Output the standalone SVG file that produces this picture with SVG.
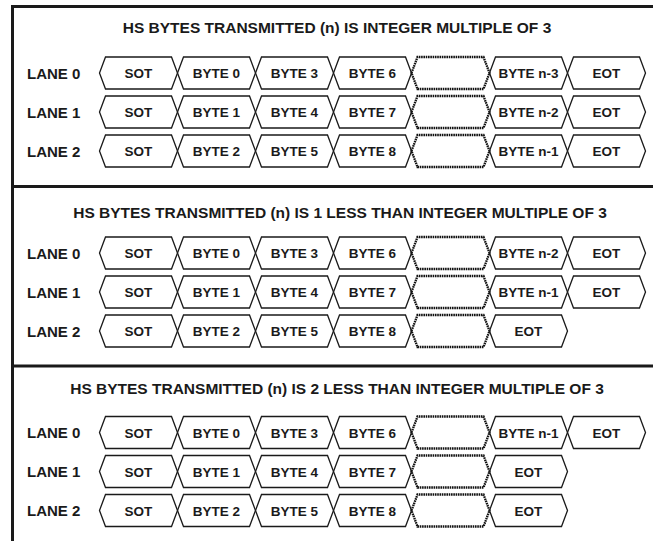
<svg xmlns="http://www.w3.org/2000/svg" xmlns:xlink="http://www.w3.org/1999/xlink" width="653" height="541" viewBox="0 0 653 541">
<style>
.hex{fill:none;stroke:#1a1a1a;stroke-width:1.3;stroke-linejoin:miter}
.dot{fill:none;stroke:#111;stroke-width:2.3;stroke-dasharray:1.6 0.7}
.frame{fill:none;stroke:#1a1a1a;stroke-width:3}
text{font-family:"Liberation Sans",Arial,Helvetica,sans-serif;font-weight:bold;fill:#1a1a1a}
.t{font-size:13.5px;text-anchor:middle}
.lane{font-size:15px}
.title{font-size:15.5px;text-anchor:middle}
</style>
<defs>
<polygon id="hx" class="hex" points="0,0 6,-16 72,-16 78,0 72,16 6,16"/>
<polygon id="hd" class="dot" points="0,0 6,-16 72,-16 78,0 72,16 6,16"/>
</defs>
<rect width="653" height="541" fill="#fff"/>
<g id="frame">
<line class="frame" x1="11" y1="6.5" x2="653" y2="6.5"/>
<line class="frame" x1="12.5" y1="5" x2="12.5" y2="541"/>
<line class="frame" x1="11" y1="186.5" x2="653" y2="186.5"/>
<line class="frame" x1="11" y1="366" x2="653" y2="366"/>
</g>
<g id="connectors"/>

<!-- Section 1 -->
<g id="sec1">
<text id="title1" class="title" x="337" y="32.5">HS BYTES TRANSMITTED (n) IS INTEGER MULTIPLE OF 3</text>
<g id="s1-lane0">
<text class="lane" x="27" y="78.5">LANE 0</text>
<g id="s1l0-sot"><use xlink:href="#hx" x="99.5" y="73"/><text class="t" x="138.5" y="78">SOT</text></g>
<g id="s1l0-b0"><use xlink:href="#hx" x="177.5" y="73"/><text class="t" x="216.5" y="78">BYTE 0</text></g>
<g id="s1l0-b3"><use xlink:href="#hx" x="255.5" y="73"/><text class="t" x="294.5" y="78">BYTE 3</text></g>
<g id="s1l0-b6"><use xlink:href="#hx" x="333.5" y="73"/><text class="t" x="372.5" y="78">BYTE 6</text></g>
<g id="s1l0-gap"><use xlink:href="#hd" x="411.5" y="73"/></g>
<g id="s1l0-bn"><use xlink:href="#hx" x="489.5" y="73"/><text class="t" x="528.5" y="78">BYTE n-3</text></g>
<g id="s1l0-eot"><use xlink:href="#hx" x="567.5" y="73"/><text class="t" x="606.5" y="78">EOT</text></g>
</g>
<g id="s1-lane1">
<text class="lane" x="27" y="117.5">LANE 1</text>
<g id="s1l1-sot"><use xlink:href="#hx" x="99.5" y="112"/><text class="t" x="138.5" y="117">SOT</text></g>
<g id="s1l1-b1"><use xlink:href="#hx" x="177.5" y="112"/><text class="t" x="216.5" y="117">BYTE 1</text></g>
<g id="s1l1-b4"><use xlink:href="#hx" x="255.5" y="112"/><text class="t" x="294.5" y="117">BYTE 4</text></g>
<g id="s1l1-b7"><use xlink:href="#hx" x="333.5" y="112"/><text class="t" x="372.5" y="117">BYTE 7</text></g>
<g id="s1l1-gap"><use xlink:href="#hd" x="411.5" y="112"/></g>
<g id="s1l1-bn"><use xlink:href="#hx" x="489.5" y="112"/><text class="t" x="528.5" y="117">BYTE n-2</text></g>
<g id="s1l1-eot"><use xlink:href="#hx" x="567.5" y="112"/><text class="t" x="606.5" y="117">EOT</text></g>
</g>
<g id="s1-lane2">
<text class="lane" x="27" y="156.5">LANE 2</text>
<g id="s1l2-sot"><use xlink:href="#hx" x="99.5" y="151"/><text class="t" x="138.5" y="156">SOT</text></g>
<g id="s1l2-b2"><use xlink:href="#hx" x="177.5" y="151"/><text class="t" x="216.5" y="156">BYTE 2</text></g>
<g id="s1l2-b5"><use xlink:href="#hx" x="255.5" y="151"/><text class="t" x="294.5" y="156">BYTE 5</text></g>
<g id="s1l2-b8"><use xlink:href="#hx" x="333.5" y="151"/><text class="t" x="372.5" y="156">BYTE 8</text></g>
<g id="s1l2-gap"><use xlink:href="#hd" x="411.5" y="151"/></g>
<g id="s1l2-bn"><use xlink:href="#hx" x="489.5" y="151"/><text class="t" x="528.5" y="156">BYTE n-1</text></g>
<g id="s1l2-eot"><use xlink:href="#hx" x="567.5" y="151"/><text class="t" x="606.5" y="156">EOT</text></g>
</g>
</g>

<!-- Section 2 -->
<g id="sec2">
<text id="title2" class="title" x="340" y="218">HS BYTES TRANSMITTED (n) IS 1 LESS THAN INTEGER MULTIPLE OF 3</text>
<g id="s2-lane0">
<text class="lane" x="27" y="258.5">LANE 0</text>
<g id="s2l0-sot"><use xlink:href="#hx" x="99.5" y="253"/><text class="t" x="138.5" y="258">SOT</text></g>
<g id="s2l0-b0"><use xlink:href="#hx" x="177.5" y="253"/><text class="t" x="216.5" y="258">BYTE 0</text></g>
<g id="s2l0-b3"><use xlink:href="#hx" x="255.5" y="253"/><text class="t" x="294.5" y="258">BYTE 3</text></g>
<g id="s2l0-b6"><use xlink:href="#hx" x="333.5" y="253"/><text class="t" x="372.5" y="258">BYTE 6</text></g>
<g id="s2l0-gap"><use xlink:href="#hd" x="411.5" y="253"/></g>
<g id="s2l0-bn"><use xlink:href="#hx" x="489.5" y="253"/><text class="t" x="528.5" y="258">BYTE n-2</text></g>
<g id="s2l0-eot"><use xlink:href="#hx" x="567.5" y="253"/><text class="t" x="606.5" y="258">EOT</text></g>
</g>
<g id="s2-lane1">
<text class="lane" x="27" y="297.5">LANE 1</text>
<g id="s2l1-sot"><use xlink:href="#hx" x="99.5" y="292"/><text class="t" x="138.5" y="297">SOT</text></g>
<g id="s2l1-b1"><use xlink:href="#hx" x="177.5" y="292"/><text class="t" x="216.5" y="297">BYTE 1</text></g>
<g id="s2l1-b4"><use xlink:href="#hx" x="255.5" y="292"/><text class="t" x="294.5" y="297">BYTE 4</text></g>
<g id="s2l1-b7"><use xlink:href="#hx" x="333.5" y="292"/><text class="t" x="372.5" y="297">BYTE 7</text></g>
<g id="s2l1-gap"><use xlink:href="#hd" x="411.5" y="292"/></g>
<g id="s2l1-bn"><use xlink:href="#hx" x="489.5" y="292"/><text class="t" x="528.5" y="297">BYTE n-1</text></g>
<g id="s2l1-eot"><use xlink:href="#hx" x="567.5" y="292"/><text class="t" x="606.5" y="297">EOT</text></g>
</g>
<g id="s2-lane2">
<text class="lane" x="27" y="336.5">LANE 2</text>
<g id="s2l2-sot"><use xlink:href="#hx" x="99.5" y="331"/><text class="t" x="138.5" y="336">SOT</text></g>
<g id="s2l2-b2"><use xlink:href="#hx" x="177.5" y="331"/><text class="t" x="216.5" y="336">BYTE 2</text></g>
<g id="s2l2-b5"><use xlink:href="#hx" x="255.5" y="331"/><text class="t" x="294.5" y="336">BYTE 5</text></g>
<g id="s2l2-b8"><use xlink:href="#hx" x="333.5" y="331"/><text class="t" x="372.5" y="336">BYTE 8</text></g>
<g id="s2l2-gap"><use xlink:href="#hd" x="411.5" y="331"/></g>
<g id="s2l2-eot"><use xlink:href="#hx" x="489.5" y="331"/><text class="t" x="528.5" y="336">EOT</text></g>
</g>
</g>

<!-- Section 3 -->
<g id="sec3">
<text id="title3" class="title" x="337" y="394">HS BYTES TRANSMITTED (n) IS 2 LESS THAN INTEGER MULTIPLE OF 3</text>
<g id="s3-lane0">
<text class="lane" x="27" y="438">LANE 0</text>
<g id="s3l0-sot"><use xlink:href="#hx" x="99.5" y="432.5"/><text class="t" x="138.5" y="437.5">SOT</text></g>
<g id="s3l0-b0"><use xlink:href="#hx" x="177.5" y="432.5"/><text class="t" x="216.5" y="437.5">BYTE 0</text></g>
<g id="s3l0-b3"><use xlink:href="#hx" x="255.5" y="432.5"/><text class="t" x="294.5" y="437.5">BYTE 3</text></g>
<g id="s3l0-b6"><use xlink:href="#hx" x="333.5" y="432.5"/><text class="t" x="372.5" y="437.5">BYTE 6</text></g>
<g id="s3l0-gap"><use xlink:href="#hd" x="411.5" y="432.5"/></g>
<g id="s3l0-bn"><use xlink:href="#hx" x="489.5" y="432.5"/><text class="t" x="528.5" y="437.5">BYTE n-1</text></g>
<g id="s3l0-eot"><use xlink:href="#hx" x="567.5" y="432.5"/><text class="t" x="606.5" y="437.5">EOT</text></g>
</g>
<g id="s3-lane1">
<text class="lane" x="27" y="477">LANE 1</text>
<g id="s3l1-sot"><use xlink:href="#hx" x="99.5" y="471.5"/><text class="t" x="138.5" y="476.5">SOT</text></g>
<g id="s3l1-b1"><use xlink:href="#hx" x="177.5" y="471.5"/><text class="t" x="216.5" y="476.5">BYTE 1</text></g>
<g id="s3l1-b4"><use xlink:href="#hx" x="255.5" y="471.5"/><text class="t" x="294.5" y="476.5">BYTE 4</text></g>
<g id="s3l1-b7"><use xlink:href="#hx" x="333.5" y="471.5"/><text class="t" x="372.5" y="476.5">BYTE 7</text></g>
<g id="s3l1-gap"><use xlink:href="#hd" x="411.5" y="471.5"/></g>
<g id="s3l1-eot"><use xlink:href="#hx" x="489.5" y="471.5"/><text class="t" x="528.5" y="476.5">EOT</text></g>
</g>
<g id="s3-lane2">
<text class="lane" x="27" y="516">LANE 2</text>
<g id="s3l2-sot"><use xlink:href="#hx" x="99.5" y="510.5"/><text class="t" x="138.5" y="515.5">SOT</text></g>
<g id="s3l2-b2"><use xlink:href="#hx" x="177.5" y="510.5"/><text class="t" x="216.5" y="515.5">BYTE 2</text></g>
<g id="s3l2-b5"><use xlink:href="#hx" x="255.5" y="510.5"/><text class="t" x="294.5" y="515.5">BYTE 5</text></g>
<g id="s3l2-b8"><use xlink:href="#hx" x="333.5" y="510.5"/><text class="t" x="372.5" y="515.5">BYTE 8</text></g>
<g id="s3l2-gap"><use xlink:href="#hd" x="411.5" y="510.5"/></g>
<g id="s3l2-eot"><use xlink:href="#hx" x="489.5" y="510.5"/><text class="t" x="528.5" y="515.5">EOT</text></g>
</g>
</g>
</svg>
